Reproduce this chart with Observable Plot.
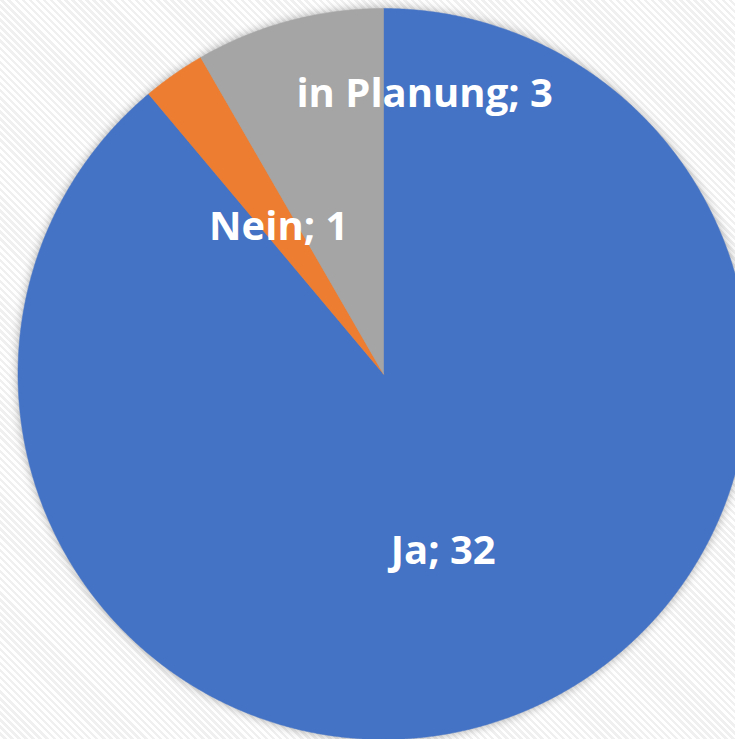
<!DOCTYPE html>
<html>
<head>
<meta charset="utf-8">
<script src="https://cdn.jsdelivr.net/npm/d3@7"></script>
<script src="https://cdn.jsdelivr.net/npm/@observablehq/plot@0.6"></script>
<style>
  html, body { margin: 0; padding: 0; }
  body {
    width: 735px; height: 739px; overflow: hidden;
    background: repeating-linear-gradient(45deg, #ffffff 0px, #ffffff 2.5px, #f0f0f0 2.5px, #f0f0f0 5px);
  }
  #chart svg { display: block; background: transparent; }
  #chart .slices { filter: drop-shadow(0 0 5px rgba(0,0,0,0.32)); }
</style>
</head>
<body>
<div id="chart"></div>
<script>
const categories = ["Ja", "Nein", "in Planung"];
const values = [32, 1, 3];
const colors = ["#4472C4", "#ED7D31", "#A5A5A5"];

const data = categories.map((c, i) => ({category: c, value: values[i]}));
const arcs = d3.pie().sort(null).value(d => d.value)(data);

// polygon outline for each slice (angles from 12 o'clock, clockwise)
const poly = [];
for (const a of arcs) {
  const name = a.data.category;
  poly.push({category: name, x: 0, y: 0});
  const n = Math.max(2, Math.ceil((a.endAngle - a.startAngle) / (Math.PI / 720)));
  for (let k = 0; k <= n; ++k) {
    const t = a.startAngle + (a.endAngle - a.startAngle) * k / n;
    poly.push({category: name, x: Math.sin(t), y: Math.cos(t)});
  }
  poly.push({category: name, x: 0, y: 0});
}

// label anchors along slice middle angle, with pixel nudges (layout)
const labelLayout = [
  {r: 0.55, dx: -9, dy: -12},
  {r: 0.50, dx: 0, dy: 3},
  {r: 0.77, dx: 114, dy: -8}
];
const labels = arcs.map((a, i) => {
  const m = (a.startAngle + a.endAngle) / 2;
  const L = labelLayout[i];
  return {text: `${a.data.category}; ${a.data.value}`, x: L.r * Math.sin(m), y: L.r * Math.cos(m), dx: L.dx, dy: L.dy};
});

const cx = 383, cy = 373.5, r = 365.5, W = 735, H = 739;

const chart = Plot.plot({
  width: W, height: H,
  margin: 0,
  style: {background: "transparent"},
  x: {domain: [-cx / r, (W - cx) / r], axis: null},
  y: {domain: [(cy - H) / r, cy / r], axis: null},
  color: {domain: categories, range: colors},
  marks: [
    Plot.line(poly, {x: "x", y: "y", z: "category", fill: "category", stroke: "category", strokeWidth: 0.5, curve: "linear", className: "slices"}),
    ...labels.map(l => Plot.text([l], {x: "x", y: "y", text: "text", dx: l.dx, dy: l.dy, fill: "white", fontSize: 40, fontWeight: "bold", fontFamily: "'Open Sans', sans-serif", textAnchor: "middle"}))
  ]
});
document.getElementById("chart").appendChild(chart);
</script>
</body>
</html>
